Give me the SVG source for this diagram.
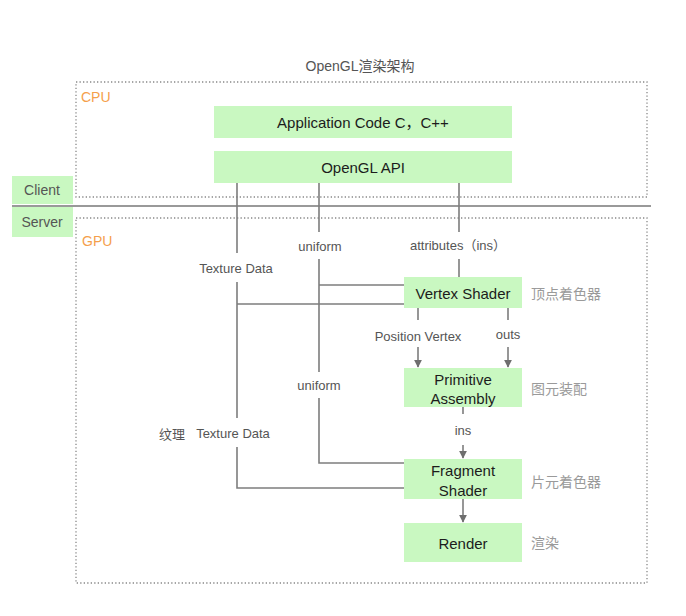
<svg xmlns="http://www.w3.org/2000/svg" width="686" height="616" viewBox="0 0 686 616">
<defs>
<style>
.box{fill:#c9f8c1}
.bt{font-family:"Liberation Sans","Noto Sans CJK SC",sans-serif;font-size:15px;fill:#1c1c1c;text-anchor:middle;dominant-baseline:central}
.lbl{font-family:"Liberation Sans","Noto Sans CJK SC",sans-serif;font-size:13px;fill:#555;text-anchor:middle;dominant-baseline:central}
.cj{font-family:"Noto Sans CJK SC",sans-serif;font-size:14px;fill:#9a9a9a;dominant-baseline:central}
.area{fill:none;stroke:#888;stroke-width:1.3;stroke-dasharray:1.3 2.2}
.ln{fill:none;stroke:#7d7d7d;stroke-width:1.6}
.or{font-family:"Liberation Sans",sans-serif;font-size:14px;fill:#f5a04b;dominant-baseline:central}
</style>
<marker id="ah" viewBox="0 0 10 10" refX="9" refY="5" markerWidth="8" markerHeight="8" markerUnits="userSpaceOnUse" orient="auto">
<path d="M0,0 L10,5 L0,10 z" fill="#6e6e6e"/>
</marker>
</defs>
<rect width="686" height="616" fill="#fff"/>
<text x="360" y="66" class="lbl" style="font-size:14px">OpenGL渲染架构</text>

<g id="cpu-area">
<rect x="76" y="82" width="571" height="115" class="area"/>
<text x="81" y="97" class="or">CPU</text>
</g>
<g id="gpu-area">
<rect x="76" y="218" width="571" height="365" class="area"/>
<text x="82" y="241" class="or">GPU</text>
</g>
<line x1="12" y1="206" x2="651" y2="206" stroke="#999" stroke-width="2"/>
<g id="client">
<rect x="12" y="176" width="61" height="28" class="box"/>
<text x="42" y="190" class="bt" style="fill:#555;font-size:14px">Client</text>
</g>
<g id="server">
<rect x="12" y="207" width="61" height="30" class="box"/>
<text x="42" y="222" class="bt" style="fill:#555;font-size:14px">Server</text>
</g>

<g id="connectors">
<path class="ln" d="M237,183 V253 M237,282 V418 M237,447 V488 H404 M237,304 H404"/>
<path class="ln" d="M319,183 V232 M319,259 V372 M319,398 V463 H404 M319,285 H404"/>
<path class="ln" d="M459,183 V232 M459,259 V277"/>
<path class="ln" d="M418,308 V320 M508,308 V320 M463,407 V414"/>
<line class="ln" x1="418" y1="347" x2="418" y2="367" marker-end="url(#ah)"/>
<line class="ln" x1="508" y1="347" x2="508" y2="367" marker-end="url(#ah)"/>
<line class="ln" x1="463" y1="445" x2="463" y2="458" marker-end="url(#ah)"/>
<line class="ln" x1="463" y1="499" x2="463" y2="522" marker-end="url(#ah)"/>
<text x="236" y="268" class="lbl">Texture Data</text>
<text x="233" y="433" class="lbl">Texture Data</text>
<text x="320" y="246" class="lbl">uniform</text>
<text x="319" y="385" class="lbl">uniform</text>
<text x="458" y="245" class="lbl">attributes（ins）</text>
<text x="418" y="336" class="lbl">Position Vertex</text>
<text x="508" y="334" class="lbl">outs</text>
<text x="463" y="430" class="lbl">ins</text>
<text x="172" y="433" class="lbl" style="font-family:'Noto Sans CJK SC',sans-serif">纹理</text>
</g>

<g id="app-code">
<rect x="214" y="106" width="298" height="32" class="box"/>
<text x="363" y="122" class="bt">Application Code C，C++</text>
</g>
<g id="opengl-api">
<rect x="214" y="151" width="298" height="32" class="box"/>
<text x="363" y="167" class="bt">OpenGL API</text>
</g>
<g id="vertex-shader">
<rect x="404" y="277" width="118" height="31" class="box"/>
<text x="463" y="293" class="bt">Vertex Shader</text>
<text x="531" y="293" class="cj">顶点着色器</text>
</g>
<g id="primitive-assembly">
<rect x="404" y="368" width="118" height="39" class="box"/>
<text x="463" y="379" class="bt">Primitive</text>
<text x="463" y="398" class="bt">Assembly</text>
<text x="531" y="388" class="cj">图元装配</text>
</g>
<g id="fragment-shader">
<rect x="404" y="459" width="118" height="40" class="box"/>
<text x="463" y="470" class="bt">Fragment</text>
<text x="463" y="490" class="bt">Shader</text>
<text x="531" y="481" class="cj">片元着色器</text>
</g>
<g id="render">
<rect x="404" y="523" width="118" height="39" class="box"/>
<text x="463" y="543" class="bt">Render</text>
<text x="531" y="542" class="cj">渲染</text>
</g>
</svg>
